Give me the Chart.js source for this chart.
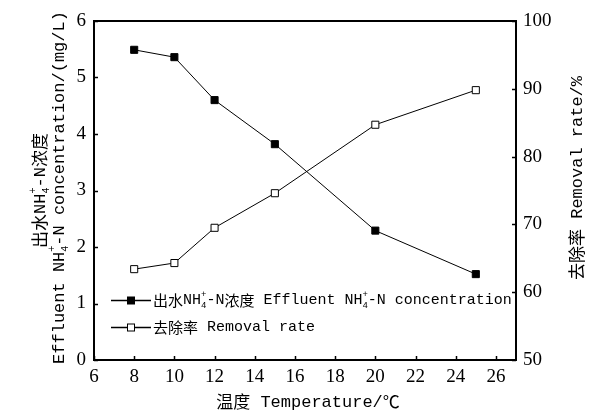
<!DOCTYPE html>
<html>
<head>
<meta charset="utf-8">
<script src="https://cdn.jsdelivr.net/npm/chart.js@4/dist/chart.umd.min.js"></script>
<style>
    html, body { margin: 0; padding: 0; background: #fff; }
    #wrap { width: 589px; height: 416px; }
</style>
</head>
<body>
<div id="wrap"><canvas id="grafica" width="589" height="416"></canvas></div>
<script>
// datos
const temperaturas = [8, 10, 12, 15, 20, 25];
const amonioSalida = [5.49, 5.36, 4.60, 3.82, 2.29, 1.52];
const tasaRemocion = [63.4, 64.3, 69.5, 74.6, 84.7, 89.8];

const ticksX = [6, 8, 10, 12, 14, 16, 18, 20, 22, 24, 26];
const ticksIzq = [0, 1, 2, 3, 4, 5, 6];
const ticksDer = [50, 60, 70, 80, 90, 100];

const fuenteTexto = '"Liberation Mono", "Noto Sans CJK SC", monospace';
const fuenteCjk = '"Noto Sans CJK SC", "Liberation Mono", sans-serif';
const fuenteNum = '"Liberation Serif", serif';

// texto con subindices / superindices
const tituloIzq1 = [["出水", "cjk"], ["NH", ""], ["4", "sub"], ["+", "sup"], ["-N", ""], ["浓度", "cjk"]];
const tituloIzq2 = [["Effluent NH", ""], ["4", "sub"], ["+", "sup"], ["-N concentration/(mg/L)", ""]];
const tituloDer = [["去除率", "cjk"], [" Removal rate/%", ""]];
const tituloX = [["温度", "cjk"], [" Temperature/", ""], ["℃", "cjk"]];
const leyenda1 = [["出水", "cjk"], ["NH", ""], ["4", "sub"], ["+", "sup"], ["-N", ""], ["浓度", "cjk"], [" Effluent NH", ""], ["4", "sub"], ["+", "sup"], ["-N concentration", ""]];
const leyenda2 = [["去除率", "cjk"], [" Removal rate", ""]];

function fuentePara(tipo, size) {
    if (tipo === "sub" || tipo === "sup") return Math.round(size * 0.6) + "px " + fuenteTexto;
    if (tipo === "cjk") return size + "px " + fuenteCjk;
    return size + "px " + fuenteTexto;
}

function medirRico(ctx, partes, size) {
    let w = 0;
    let i = 0;
    while (i < partes.length) {
        const p = partes[i];
        ctx.font = fuentePara(p[1], size);
        if (p[1] === "sub" && partes[i + 1] && partes[i + 1][1] === "sup") {
            const w1 = ctx.measureText(p[0]).width;
            const w2 = ctx.measureText(partes[i + 1][0]).width;
            w += Math.max(w1, w2);
            i += 2;
            continue;
        }
        w += ctx.measureText(p[0]).width;
        i++;
    }
    return w;
}

function dibujarRico(ctx, partes, x, y, size, centrado) {
    let cx = centrado ? x - medirRico(ctx, partes, size) / 2 : x;
    ctx.textBaseline = "middle";
    ctx.textAlign = "left";
    ctx.fillStyle = "#000";
    let i = 0;
    while (i < partes.length) {
        const p = partes[i];
        ctx.font = fuentePara(p[1], size);
        if (p[1] === "sub" && partes[i + 1] && partes[i + 1][1] === "sup") {
            const w1 = ctx.measureText(p[0]).width;
            ctx.fillText(p[0], cx, y + size * 0.38);
            const w2 = ctx.measureText(partes[i + 1][0]).width;
            ctx.fillText(partes[i + 1][0], cx, y - size * 0.38);
            cx += Math.max(w1, w2);
            i += 2;
            continue;
        }
        ctx.fillText(p[0], cx, y);
        cx += ctx.measureText(p[0]).width;
        i++;
    }
}

const marcoYExtras = {
    id: "marcoYExtras",
    afterDraw(chart) {
        const ctx = chart.ctx;
        const area = chart.chartArea;
        const sx = chart.scales.x;
        const sy = chart.scales.y;
        const sy2 = chart.scales.y2;
        ctx.save();
        ctx.strokeStyle = "#000";
        ctx.lineWidth = 2;
        ctx.strokeRect(area.left, area.top, area.right - area.left, area.bottom - area.top);

        // marcas hacia adentro
        ctx.lineWidth = 1.5;
        ctx.beginPath();
        ticksX.forEach(v => {
            const px = Math.round(sx.getPixelForValue(v)) + 0.5;
            ctx.moveTo(px, area.bottom);
            ctx.lineTo(px, area.bottom - 4);
        });
        ticksIzq.forEach(v => {
            const py = Math.round(sy.getPixelForValue(v)) + 0.5;
            ctx.moveTo(area.left, py);
            ctx.lineTo(area.left + 4, py);
        });
        ticksDer.forEach(v => {
            const py = Math.round(sy2.getPixelForValue(v)) + 0.5;
            ctx.moveTo(area.right, py);
            ctx.lineTo(area.right - 4, py);
        });
        ctx.stroke();

        // titulos de ejes
        dibujarRico(ctx, tituloX, (area.left + area.right) / 2 + 3, 402, 17, true);

        const cy = (area.top + area.bottom) / 2;
        ctx.save();
        ctx.translate(40, cy);
        ctx.rotate(-Math.PI / 2);
        dibujarRico(ctx, tituloIzq1, 0, 0, 17, true);
        ctx.restore();

        ctx.save();
        ctx.translate(59, cy - 3);
        ctx.rotate(-Math.PI / 2);
        dibujarRico(ctx, tituloIzq2, 0, 0, 17, true);
        ctx.restore();

        ctx.save();
        ctx.translate(577, 178);
        ctx.rotate(-Math.PI / 2);
        dibujarRico(ctx, tituloDer, 0, 0, 17, true);
        ctx.restore();

        // leyenda dentro del area
        const filas = [
            { y: 300, ds: chart.data.datasets[0], texto: leyenda1 },
            { y: 327, ds: chart.data.datasets[1], texto: leyenda2 }
        ];
        filas.forEach(f => {
            ctx.strokeStyle = "#000";
            ctx.lineWidth = 1.5;
            ctx.beginPath();
            ctx.moveTo(111, f.y + 0.5);
            ctx.lineTo(151, f.y + 0.5);
            ctx.stroke();
            ctx.fillStyle = f.ds.pointBackgroundColor;
            ctx.fillRect(127.5, f.y - 3, 7, 7);
            ctx.lineWidth = 1;
            ctx.strokeRect(127.5, f.y - 3, 7, 7);
            dibujarRico(ctx, f.texto, 153, f.y, 15, false);
        });
        ctx.restore();
    }
};

const datosAmonio = temperaturas.map((t, i) => ({ x: t, y: amonioSalida[i] }));
const datosRemocion = temperaturas.map((t, i) => ({ x: t, y: tasaRemocion[i] }));

new Chart(document.getElementById("grafica"), {
    type: "line",
    data: {
        datasets: [
            {
                label: "出水NH4+-N浓度 Effluent NH4+-N concentration",
                data: datosAmonio,
                yAxisID: "y",
                borderColor: "#000",
                borderWidth: 1,
                pointStyle: "rect",
                pointRadius: 5,
                pointBackgroundColor: "#000",
                pointBorderColor: "#000",
                pointBorderWidth: 1,
                tension: 0
            },
            {
                label: "去除率 Removal rate",
                data: datosRemocion,
                yAxisID: "y2",
                borderColor: "#000",
                borderWidth: 1,
                pointStyle: "rect",
                pointRadius: 5,
                pointBackgroundColor: "#fff",
                pointBorderColor: "#000",
                pointBorderWidth: 1,
                tension: 0
            }
        ]
    },
    options: {
        responsive: false,
        animation: false,
        layout: {
            padding: { top: 21, left: 0, right: 0, bottom: 0 }
        },
        plugins: {
            legend: { display: false },
            tooltip: { enabled: false }
        },
        scales: {
            x: {
                type: "linear",
                min: 6,
                max: 27,
                afterBuildTicks: scale => {
                    scale.ticks = ticksX.map(v => ({ value: v }));
                },
                afterFit: scale => { scale.height = 56; },
                grid: { display: false, drawTicks: false },
                border: { display: false },
                ticks: {
                    color: "#000",
                    padding: 6,
                    maxRotation: 0,
                    autoSkip: false,
                    font: { family: fuenteNum, size: 19 }
                }
            },
            y: {
                type: "linear",
                position: "left",
                min: 0,
                max: 6,
                afterBuildTicks: scale => {
                    scale.ticks = ticksIzq.map(v => ({ value: v }));
                },
                afterFit: scale => { scale.width = 94; },
                grid: { display: false, drawTicks: false },
                border: { display: false },
                ticks: {
                    color: "#000",
                    padding: 8,
                    font: { family: fuenteNum, size: 19 }
                }
            },
            y2: {
                type: "linear",
                position: "right",
                min: 50,
                max: 100,
                afterBuildTicks: scale => {
                    scale.ticks = ticksDer.map(v => ({ value: v }));
                },
                afterFit: scale => { scale.width = 73; },
                grid: { display: false, drawTicks: false },
                border: { display: false },
                ticks: {
                    color: "#000",
                    padding: 7,
                    font: { family: fuenteNum, size: 19 }
                }
            }
        }
    },
    plugins: [marcoYExtras]
});
</script>
</body>
</html>
